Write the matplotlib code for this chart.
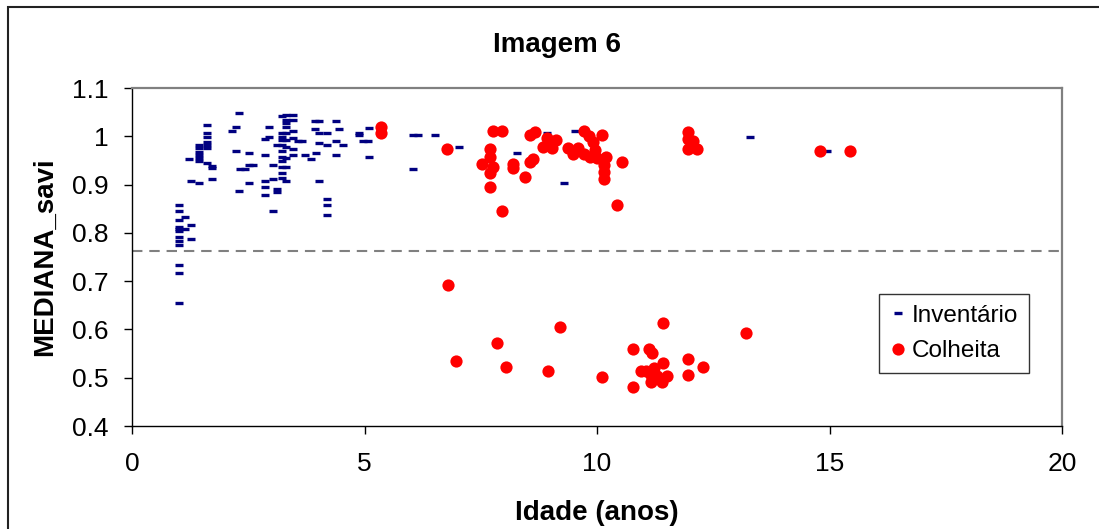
import matplotlib
matplotlib.use('Agg')
import matplotlib.pyplot as plt
from matplotlib.patches import Rectangle

plt.rcParams['font.family'] = ['Liberation Sans', 'DejaVu Sans']

# Inventario (blue dashes)
inv_x = [1.0, 1.0, 1.0, 1.0, 1.0, 1.0, 1.0, 1.0, 1.0, 1.0, 1.0, 1.0,
         1.14, 1.14, 1.27, 1.27, 1.27, 1.23,
         1.45, 1.45, 1.45, 1.45, 1.45, 1.45, 1.45,
         1.62, 1.62, 1.62, 1.62, 1.62, 1.62, 1.62,
         1.71, 1.71, 1.71,
         2.14, 2.23, 2.31, 2.23, 2.32, 2.42, 2.31, 2.52, 2.52, 2.61, 2.52,
         2.86, 2.86, 2.95, 2.95, 2.86, 2.86, 2.86, 3.04, 3.04, 3.04, 3.12, 3.12, 3.12,
         3.22, 3.22, 3.22, 3.22, 3.22, 3.22, 3.22, 3.22, 3.22, 3.22, 3.22,
         3.31, 3.31, 3.31, 3.31, 3.31, 3.31, 3.31, 3.31, 3.31, 3.31,
         3.47, 3.47, 3.47, 3.47, 3.47, 3.47,
         3.56, 3.65, 3.72, 3.86, 3.94, 4.02, 3.94, 4.02, 4.2, 4.02, 3.95, 4.02,
         4.2, 4.2, 4.2, 4.2,
         4.38, 4.46, 4.38, 4.54, 4.38, 4.89, 4.89, 5.1, 4.97, 5.08, 5.1,
         6.05, 6.15, 6.52, 6.05, 7.04, 8.29, 8.92, 9.53, 9.28, 13.29, 14.94]
inv_y = [0.858, 0.845, 0.827, 0.813, 0.808, 0.803, 0.792, 0.784, 0.775, 0.733, 0.716, 0.654,
         0.833, 0.808, 0.816, 0.787, 0.908, 0.953,
         0.903, 0.982, 0.975, 0.968, 0.961, 0.954, 0.949,
         1.023, 1.006, 0.999, 0.989, 0.982, 0.975, 0.944,
         0.938, 0.935, 0.912,
         1.011, 1.019, 1.048, 0.970, 0.932, 0.932, 0.887, 0.965, 0.941, 0.941, 0.903,
         0.961, 0.994, 1.019, 0.998, 0.908, 0.895, 0.878, 0.941, 0.912, 0.845, 0.890, 0.884, 0.982,
         1.041, 1.006, 0.999, 0.992, 0.982, 0.970, 0.958, 0.949, 0.937, 0.925, 0.913,
         1.044, 1.034, 1.027, 1.020, 1.006, 0.992, 0.978, 0.954, 0.937, 0.908,
         1.044, 1.034, 1.011, 0.996, 0.974, 0.961,
         0.990, 0.990, 0.961, 0.953, 1.032, 1.032, 1.015, 1.007, 1.007, 0.987, 0.965, 0.908,
         0.870, 0.858, 0.837, 0.982,
         1.032, 1.015, 0.990, 0.982, 0.961, 1.006, 1.003, 1.018, 0.990, 0.990, 0.958,
         1.003, 1.003, 1.003, 0.932, 0.978, 0.966, 1.006, 1.011, 0.904, 0.999, 0.970]

# Colheita (red circles)
col_x = [5.35, 5.35, 6.78, 7.77, 7.95, 7.69, 7.69, 7.52, 7.77, 7.69, 7.69, 7.95,
         8.2, 8.2, 8.46, 8.55, 8.63, 8.55, 8.67, 8.92, 8.84, 9.03, 9.12, 9.03,
         9.38, 9.49, 9.6, 9.71, 9.82, 9.72, 9.92, 9.95, 10.1, 10.0, 10.2, 10.15,
         10.15, 10.15, 10.53, 10.44, 9.85, 11.95, 11.95, 11.95, 12.06, 12.14,
         14.8, 15.44,
         6.79, 6.96, 7.86, 8.04, 8.94, 9.2, 10.1, 10.78, 10.78, 11.12, 11.19,
         11.43, 11.43, 10.95, 11.06, 11.16, 11.23, 11.16, 11.3, 11.4, 11.5,
         11.95, 11.95, 12.29, 13.2]
col_y = [1.020, 1.006, 0.974, 1.011, 1.010, 0.974, 0.958, 0.942, 0.937, 0.925, 0.894, 0.846,
         0.942, 0.934, 0.916, 0.947, 0.953, 1.003, 1.008, 0.996, 0.978, 0.975, 0.992, 0.989,
         0.975, 0.964, 0.975, 1.010, 1.000, 0.964, 0.989, 0.971, 1.003, 0.954, 0.958, 0.940,
         0.927, 0.911, 0.946, 0.858, 0.958, 1.008, 0.994, 0.974, 0.990, 0.974,
         0.970, 0.970,
         0.692, 0.535, 0.571, 0.522, 0.514, 0.604, 0.501, 0.559, 0.480, 0.560, 0.552,
         0.614, 0.531, 0.514, 0.514, 0.506, 0.520, 0.492, 0.503, 0.492, 0.503,
         0.539, 0.506, 0.522, 0.593]

threshold = 0.762

y_ticks = [0.4, 0.5, 0.6, 0.7, 0.8, 0.9, 1.0, 1.1]
y_labels = ['0.4', '0.5', '0.6', '0.7', '0.8', '0.9', '1', '1.1']
x_ticks = [0, 5, 10, 15, 20]


def main():
    W, H = 1099, 529
    fig = plt.figure(figsize=(W / 100, H / 100), dpi=100)
    ax = fig.add_axes([132 / W, 1 - 426 / H, 930 / W, 338 / H])

    ax.axhline(threshold, color='#808080', lw=1.5, dashes=(5, 3.3), zorder=1)
    ax.plot(inv_x, inv_y, ls='none', marker='_', ms=6, mew=2.4,
            color='#000080', label='Inventário', zorder=2)
    ax.plot(col_x, col_y, ls='none', marker='o', ms=8.8, mew=0,
            color='#ff0000', label='Colheita', zorder=3)

    ax.set_xlim(0, 20)
    ax.set_ylim(0.4, 1.1)
    ax.set_xticks(x_ticks)
    ax.set_yticks(y_ticks)
    ax.set_yticklabels(y_labels)
    ax.tick_params(axis='both', labelsize=19, length=6, width=1, direction='out')
    ax.tick_params(axis='y', pad=11)
    ax.tick_params(axis='x', pad=13)

    for side in ['top', 'right']:
        ax.spines[side].set_color('#808080')
        ax.spines[side].set_linewidth(1.6)
    for side in ['left', 'bottom']:
        ax.spines[side].set_color('black')
        ax.spines[side].set_linewidth(1.0)

    fig.text(557 / W, 1 - 52.3 / H, 'Imagem 6', ha='center', va='baseline',
             fontsize=20, fontweight='bold')
    fig.text(597 / W, 1 - 513 / H, 'Idade (anos)', ha='center', va='center',
             fontsize=20, fontweight='bold')
    fig.text(45 / W, 1 - 257 / H, 'MEDIANA_savi', ha='center', va='center',
             rotation=90, fontsize=20, fontweight='bold')

    leg = ax.legend(loc='upper left', bbox_to_anchor=(879 / W, 1 - 294 / H),
                    bbox_transform=fig.transFigure, borderaxespad=0,
                    fontsize=17.5, fancybox=False, edgecolor='black',
                    handlelength=0.7, handletextpad=0.2, borderpad=0.45,
                    labelspacing=0.55, markerscale=1.0)
    leg.get_frame().set_linewidth(1.0)

    # frame around the whole chart area (runs off right/bottom edge)
    fig.add_artist(Rectangle((8 / W, -0.1), 1.2, 1 - 7 / H + 0.1,
                             transform=fig.transFigure, fill=False,
                             ec='#222222', lw=1.5))

    fig.savefig('out.png', dpi=100)


if __name__ == '__main__':
    main()
